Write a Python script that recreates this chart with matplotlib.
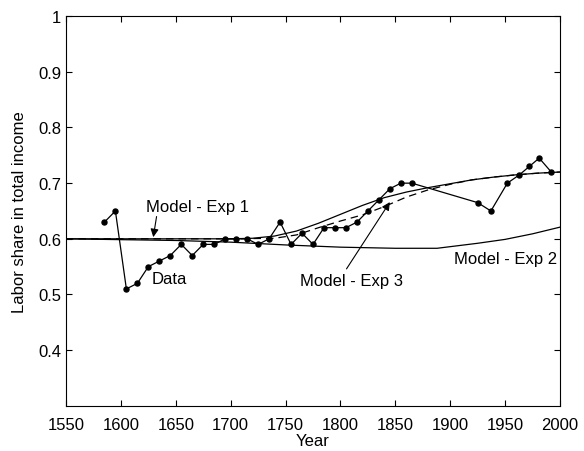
import numpy as np
import matplotlib
matplotlib.use("Agg")
import matplotlib.pyplot as plt

plt.rcParams['font.family'] = ['Liberation Sans', 'DejaVu Sans']

# observed labor share
data_years = [1585, 1595, 1605, 1615, 1625, 1635, 1645, 1655, 1665, 1675, 1685,
              1695, 1705, 1715, 1725, 1735, 1745, 1755, 1765, 1775, 1785, 1795,
              1805, 1815, 1825, 1835, 1845, 1855, 1865, 1925, 1937, 1952, 1963,
              1972, 1981, 1992]
data_share = [0.63, 0.65, 0.51, 0.52, 0.55, 0.56, 0.57, 0.59, 0.57, 0.59, 0.59,
              0.60, 0.60, 0.60, 0.59, 0.60, 0.63, 0.59, 0.61, 0.59, 0.62, 0.62,
              0.62, 0.63, 0.65, 0.67, 0.69, 0.70, 0.70, 0.665, 0.65, 0.70, 0.715,
              0.73, 0.745, 0.72]

# model runs
exp1_years = [1550, 1700, 1720, 1740, 1760, 1780, 1800, 1820, 1840, 1860, 1880,
              1900, 1920, 1940, 1960, 1980, 2000]
exp1_share = [0.600, 0.600, 0.601, 0.605, 0.614, 0.628, 0.644, 0.660, 0.674,
              0.684, 0.692, 0.699, 0.706, 0.711, 0.715, 0.718, 0.720]

exp3_years = [1550, 1700, 1740, 1760, 1780, 1800, 1820, 1840, 1860, 1880, 1900,
              1920, 1940, 1960, 1980, 2000]
exp3_share = [0.600, 0.600, 0.601, 0.607, 0.620, 0.632, 0.643, 0.658, 0.675,
              0.688, 0.698, 0.706, 0.711, 0.715, 0.718, 0.720]

exp2_years = [1550, 1650, 1700, 1750, 1800, 1850, 1888, 1925, 1950, 1975, 2000]
exp2_share = [0.600, 0.597, 0.594, 0.589, 0.585, 0.583, 0.583, 0.592, 0.599,
              0.609, 0.621]

fs = 12

fig = plt.figure(figsize=(5.84, 4.52), dpi=100)
ax = fig.add_axes([0.113, 0.100, 0.846, 0.862])

ax.plot(exp1_years, exp1_share, color='black', lw=0.9)
ax.plot(exp3_years, exp3_share, color='black', lw=0.9, dashes=(6, 4))
ax.plot(exp2_years, exp2_share, color='black', lw=0.9)
ax.plot(data_years, data_share, color='black', lw=0.9, marker='o', markersize=3.6)

# labels and pointer arrows
arrow = dict(arrowstyle='-|>', color='black', lw=0.8, mutation_scale=12,
             shrinkA=0, shrinkB=0)
ax.text(1623, 0.658, 'Model - Exp 1', fontsize=fs, ha='left', va='center')
ax.annotate('', xy=(1629.5, 0.603), xytext=(1632.5, 0.640), arrowprops=arrow)
ax.text(1763, 0.526, 'Model - Exp 3', fontsize=fs, ha='left', va='center')
ax.annotate('', xy=(1845, 0.666), xytext=(1805.5, 0.546), arrowprops=arrow)
ax.text(1628, 0.529, 'Data', fontsize=fs, ha='left', va='center')
ax.text(1997, 0.564, 'Model - Exp 2', fontsize=fs, ha='right', va='center')

ax.set_xlim(1550, 2000)
ax.set_ylim(0.3, 1.0)
ax.set_xticks(np.arange(1550, 2001, 50))
ax.set_yticks([0.4, 0.5, 0.6, 0.7, 0.8, 0.9, 1.0])
ax.set_yticklabels(['0.4', '0.5', '0.6', '0.7', '0.8', '0.9', '1'])
ax.tick_params(direction='in', top=True, right=True, length=4, labelsize=fs)
ax.tick_params(axis='x', pad=8)
ax.set_xlabel('Year', fontsize=fs, labelpad=1)
ax.set_ylabel('Labor share in total income', fontsize=fs, labelpad=8)

fig.savefig('out.png', dpi=100)
